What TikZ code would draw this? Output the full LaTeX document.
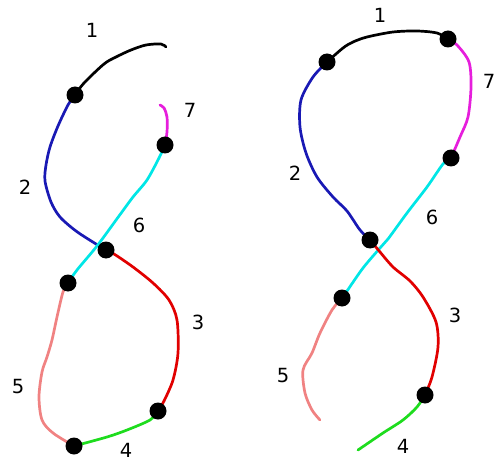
\documentclass[tikz,border=0pt]{standalone}
\usepackage{fontspec}
\setmainfont{DejaVu Sans}
\definecolor{cblack}{RGB}{0,0,0}
\definecolor{cblue}{RGB}{25,25,180}
\definecolor{ccyan}{RGB}{0,230,230}
\definecolor{cmag}{RGB}{230,30,220}
\definecolor{cred}{RGB}{225,0,0}
\definecolor{cgreen}{RGB}{30,220,30}
\definecolor{cpink}{RGB}{240,130,130}
\begin{document}
\begin{tikzpicture}[x=1pt,y=-1pt,
  seg/.style={line width=2.7pt,line cap=round,line join=round},
  dot/.style={circle,fill=black,minimum size=17pt,inner sep=0pt},
  lab/.style={font=\fontsize{19.5}{19.5}\selectfont,inner sep=0pt}]
\useasboundingbox (0,0) rectangle (497,462);
% ---------- left figure ----------
\coordinate (La) at (75,95);
\coordinate (Lb) at (165,145);
\coordinate (Lc) at (106,250);
\coordinate (Ld) at (68,283);
\coordinate (Le) at (158,411);
\coordinate (Lf) at (74,446);
\coordinate (Lend1) at (166,47);
\coordinate (Lend7) at (160,105);
\draw[seg,cblack] plot[smooth,tension=0.5] coordinates {(La) (84,83) (104,64) (116,57) (131,50) (146,45) (161,44) (Lend1)};
\draw[seg,cblue] plot[smooth,tension=0.5] coordinates {(La) (68,105) (58,126) (50,147) (46,165) (45,181) (51,202) (60,217) (76,231) (96,244) (Lc)};
\draw[seg,cmag] plot[smooth,tension=0.5] coordinates {(Lb) (167,132) (167,117) (164,108) (Lend7)};
\draw[seg,ccyan] plot[smooth,tension=0.5] coordinates {(Lb) (159,158) (147,180) (133,197) (119,216) (97,246) (77,270) (Ld)};
\draw[seg,cred] plot[smooth,tension=0.5] coordinates {(Lc) (114,254) (133,267) (153,283) (169,300) (177,320) (178,353) (173,380) (164,401) (Le)};
\draw[seg,cgreen] plot[smooth,tension=0.5] coordinates {(Le) (150,420) (127,430) (107,437) (Lf)};
\draw[seg,cpink] plot[smooth,tension=0.5] coordinates {(Ld) (63,292) (57,317) (52,340) (47,357) (42,372) (39,397) (42,420) (53,433) (Lf)};
\foreach \p in {La,Lb,Lc,Ld,Le,Lf} \node[dot] (d\p) at (\p) {};
\node[lab] (l1) at (92,30) {1};
\node[lab] (l2) at (25,187) {2};
\node[lab] (l3) at (198,322) {3};
\node[lab] (l4) at (126,450) {4};
\node[lab] (l5) at (18,387) {5};
\node[lab] (l6) at (139,225) {6};
\node[lab] (l7) at (190,110) {7};
% ---------- right figure ----------
\coordinate (Ra) at (327,62);
\coordinate (Rb) at (448,39);
\coordinate (Rc) at (451,158);
\coordinate (Rd) at (370,240);
\coordinate (Re) at (342,298);
\coordinate (Rf) at (425,395);
\coordinate (Rend4) at (358,450);
\coordinate (Rend5) at (320,420);
\draw[seg,cblack] plot[smooth,tension=0.5] coordinates {(Ra) (343,48) (353,42) (367,37) (393,32) (417,31) (437,33) (Rb)};
\draw[seg,cmag] plot[smooth,tension=0.5] coordinates {(Rb) (457,45) (469,62) (471,87) (468,117) (460,137) (Rc)};
\draw[seg,cblue] plot[smooth,tension=0.5] coordinates {(Ra) (313,77) (301,100) (300,127) (306,153) (317,177) (333,197) (347,211) (360,230) (Rd)};
\draw[seg,ccyan] plot[smooth,tension=0.5] coordinates {(Rc) (443,164) (427,187) (407,213) (388,239) (380,248) (363,268) (347,291) (Re)};
\draw[seg,cred] plot[smooth,tension=0.5] coordinates {(Rd) (380,252) (393,267) (410,281) (423,297) (436,322) (438,347) (432,377) (Rf)};
\draw[seg,cgreen] plot[smooth,tension=0.5] coordinates {(Rf) (417,407) (403,420) (383,433) (Rend4)};
\draw[seg,cpink] plot[smooth,tension=0.5] coordinates {(Re) (332,310) (320,333) (312,353) (303,370) (305,393) (312,410) (Rend5)};
\foreach \p in {Ra,Rb,Rc,Rd,Re,Rf} \node[dot] (d\p) at (\p) {};
\node[lab] (r1) at (380,15) {1};
\node[lab] (r2) at (295,173) {2};
\node[lab] (r3) at (455,315) {3};
\node[lab] (r4) at (403,446) {4};
\node[lab] (r5) at (283,376) {5};
\node[lab] (r6) at (432,217) {6};
\node[lab] (r7) at (489,81) {7};
\end{tikzpicture}
\end{document}
